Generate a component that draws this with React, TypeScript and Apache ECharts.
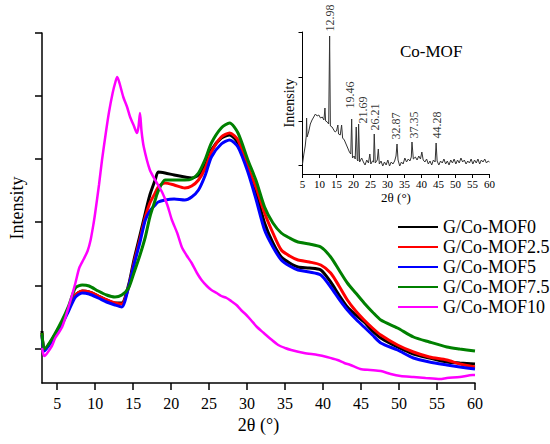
import React, { useEffect, useRef } from "react";
import * as echarts from "echarts";

const FONT = "'Liberation Serif', 'Times New Roman', serif";

// Main chart: 2θ positions shared by the four similar composites
const twoTheta = [3.0, 3.3, 4.3, 5.6, 6.5, 7.4, 8.3, 9.2, 10.4, 11.5,
  12.6, 13.5, 14.4, 15.1, 15.9, 16.6, 17.2, 17.9, 18.3, 19.2,
  20.4, 21.8, 22.7, 23.6, 24.5, 25.3, 26.6, 27.7, 28.8, 30.1,
  31.2, 32.3, 33.4, 34.5, 35.6, 36.7, 38.2, 39.7, 41.0, 42.1,
  43.2, 44.3, 45.4, 46.5, 47.6, 49.8, 51.9, 54.0, 56.3, 58.0, 60.0];

const mof0 = [52, 33, 43, 60, 74, 88, 92, 91, 87, 83,
  80, 80, 98, 123, 148, 170, 188, 203, 211, 210,
  208, 206, 205, 208, 218, 233, 245, 248, 240, 215,
  190, 160, 140, 126, 120, 116, 115, 113, 101, 88,
  76, 68, 61, 52, 45, 36, 29, 25, 21, 20, 19];

const mof25 = [50, 33, 43, 60, 74, 88, 92, 91, 87, 83,
  80, 79, 96, 120, 144, 166, 180, 190, 196, 200,
  198, 195, 197, 203, 215, 231, 246, 250, 243, 216,
  195, 170, 150, 133, 127, 123, 121, 118, 110, 97,
  83, 72, 63, 55, 48, 38, 31, 26, 23, 19, 16];

const mof5 = [48, 32, 42, 58, 72, 86, 90, 89, 85, 81,
  78, 76, 96, 118, 141, 163, 172, 178, 181, 183,
  184, 183, 186, 193, 208, 226, 239, 243, 236, 211,
  183, 153, 136, 123, 117, 113, 111, 108, 96, 84,
  73, 64, 56, 48, 40, 33, 25, 21, 18, 16, 14];

const mof75 = [50, 34, 44, 62, 77, 95, 98, 97, 92, 88,
  86, 88, 95, 110, 128, 146, 166, 183, 192, 203,
  203, 203, 204, 210, 224, 240, 255, 260, 250, 223,
  202, 176, 160, 150, 145, 141, 139, 136, 126, 113,
  100, 90, 80, 71, 63, 55, 46, 41, 36, 34, 32];

// G/Co-MOF10 has its own sampling (sharp peak near 13 and spike near 16)
const mof10Theta = [3.0, 3.3, 4.3, 4.74, 5.65, 6.5, 7.4, 7.9, 8.5, 9.0,
  9.4, 9.8, 10.0, 10.5, 10.9, 11.4, 11.8, 12.3, 12.7, 12.9,
  13.2, 13.7, 14.2, 14.6, 15.1, 15.5, 15.7, 15.9, 16.1, 16.4,
  17.2, 17.9, 18.8, 19.5, 20.1, 20.8, 21.4, 22.0, 22.7, 23.4,
  24.0, 24.7, 25.3, 26.0, 26.6, 27.3, 27.9, 28.6, 29.2, 29.9,
  30.5, 31.3, 32.2, 33.1, 34.1, 35.0, 35.8, 37.5, 39.3, 40.5,
  41.9, 42.8, 43.6, 44.9, 46.2, 47.6, 48.9, 50.2, 51.9, 53.5,
  55.4, 56.3, 58.0, 59.7, 60.0];

const mof10 = [35, 27, 37, 45, 56, 76, 100, 115, 124, 132,
  143, 160, 170, 198, 223, 250, 270, 290, 302, 306,
  300, 286, 276, 266, 257, 250, 256, 270, 252, 236,
  213, 203, 191, 178, 163, 150, 136, 128, 120, 110,
  103, 97, 93, 90, 87, 85, 82, 78, 73, 68,
  63, 56, 50, 44, 38, 35, 33, 30, 28, 26,
  23, 20, 18, 14, 13, 12, 9, 7, 6, 5,
  4, 5, 6, 8, 8];

// Inset: Co-MOF pattern
const insetTheta = [5.0, 5.4, 5.8, 6.1, 6.2, 6.35, 6.8, 7.3, 7.8, 8.3,
  8.8, 9.3, 9.8, 10.3, 10.8, 11.3, 11.6, 11.8, 12.3, 12.7,
  12.98, 13.2, 13.7, 14.2, 14.6, 15.0, 15.4, 15.6, 16.1, 16.5,
  16.8, 17.3, 17.8, 18.3, 18.8, 19.2, 19.46, 19.7, 20.2, 20.5,
  20.8, 21.1, 21.3, 21.5, 21.8, 22.4, 22.9, 23.4, 23.9, 24.4,
  24.8, 25.1, 25.6, 25.9, 26.1, 26.4, 27.0, 27.3, 27.6, 28.1,
  28.6, 29.1, 29.6, 30.1, 30.6, 31.1, 31.6, 32.1, 32.5, 32.8,
  33.1, 33.6, 34.1, 34.6, 35.1, 35.6, 36.1, 36.6, 37.0, 37.2,
  37.6, 38.2, 38.7, 39.2, 39.7, 40.1, 40.5, 41.0, 41.5, 42.0,
  42.5, 43.0, 43.5, 44.0, 44.3, 44.6, 45.1, 45.6, 46.1, 46.6,
  47.1, 47.6, 48.1, 48.6, 49.1, 49.6, 50.1, 50.6, 51.1, 51.6,
  52.1, 52.6, 53.1, 53.6, 54.1, 54.6, 55.1, 55.6, 56.1, 56.6,
  57.1, 57.6, 58.1, 58.6, 59.1, 59.6, 60.0];

const insetIntensity = [10, 20, 28, 38, 56, 37, 42, 50, 54, 57,
  60, 58, 59, 56, 57, 54, 66, 53, 52, 50,
  138, 48, 47, 44, 42, 43, 49, 40, 39, 49,
  36, 34, 30, 26, 22, 20, 55, 16, 18, 15,
  47, 14, 13, 50, 12, 16, 12, 9, 14, 11,
  20, 10, 13, 12, 40, 11, 14, 25, 10, 13,
  8, 12, 9, 14, 8, 12, 10, 13, 18, 30,
  14, 8, 12, 10, 16, 12, 15, 13, 17, 32,
  15, 17, 14, 18, 15, 22, 14, 12, 15, 10,
  13, 9, 14, 12, 31, 13, 9, 13, 11, 15,
  10, 13, 9, 14, 11, 15, 10, 14, 11, 16,
  12, 14, 10, 13, 11, 15, 10, 14, 11, 15,
  10, 14, 12, 15, 11, 13, 12];

// Peak annotations of the inset (label text, where the label sits along 2θ, label base height)
const peakLabels = ["12.98", "19.46", "21.69", "26.21", "32.87", "37.35", "44.28"];
const peakLabelTheta = [13.0, 18.95, 22.8, 26.3, 32.6, 37.8, 44.6];
const peakLabelBase = [142, 65, 50, 43, 34, 35, 35];

const mainXTicks = [5, 10, 15, 20, 25, 30, 35, 40, 45, 50, 55, 60];
const mainYTicks = [34, 97, 161, 224, 287, 350];
const insetYTicks = [9, 53, 97, 142];

const seriesNames = ["G/Co-MOF0", "G/Co-MOF2.5", "G/Co-MOF5", "G/Co-MOF7.5", "G/Co-MOF10"];
const seriesColors = ["#000000", "#ff0000", "#0000ff", "#008000", "#ff00ff"];

const zip = (xs: number[], ys: number[]) => xs.map((x, i) => [x, ys[i]]);

export default function App() {
  const ref = useRef<HTMLDivElement>(null);

  useEffect(() => {
    if (!ref.current) return;
    const chart = echarts.init(ref.current, null, { renderer: "svg" });

    const mainLine = (idx: number, xs: number[], ys: number[], width: number) => ({
      name: seriesNames[idx],
      type: "line",
      xAxisIndex: 0,
      yAxisIndex: 0,
      data: zip(xs, ys),
      symbol: "none",
      showSymbol: false,
      smooth: 0.25,
      color: seriesColors[idx],
      lineStyle: { color: seriesColors[idx], width },
      itemStyle: { color: seriesColors[idx] },
      z: 2 + idx,
    });

    const axisLineStyle = { color: "#000", width: 1.5 };

    const option: any = {
      animation: false,
      backgroundColor: "#ffffff",
      grid: [
        { left: 39, right: 75, top: 33, bottom: 61 },
        { left: 302.5, right: 60.5, top: 32, bottom: 270 },
      ],
      xAxis: [
        {
          type: "value",
          gridIndex: 0,
          min: 3,
          max: 60,
          axisLine: { show: true, lineStyle: axisLineStyle },
          axisTick: { show: true, customValues: mainXTicks, length: 7, lineStyle: axisLineStyle },
          axisLabel: { show: true, customValues: mainXTicks, fontSize: 16, fontFamily: FONT, color: "#000", margin: 12 },
          splitLine: { show: false },
          name: "2θ (°)",
          nameLocation: "middle",
          nameGap: 25,
          nameTextStyle: { fontSize: 18, fontFamily: FONT, color: "#000" },
        },
        {
          type: "value",
          gridIndex: 1,
          min: 5,
          max: 60,
          interval: 5,
          axisLine: { show: true, lineStyle: { color: "#000", width: 1 } },
          axisTick: { show: true, length: 4, lineStyle: { color: "#000", width: 1 } },
          axisLabel: { show: true, fontSize: 11, fontFamily: FONT, color: "#000", margin: 4 },
          splitLine: { show: false },
          name: "2θ (°)",
          nameLocation: "middle",
          nameGap: 17,
          nameTextStyle: { fontSize: 13, fontFamily: FONT, color: "#000" },
        },
      ],
      yAxis: [
        {
          type: "value",
          gridIndex: 0,
          min: 0,
          max: 350,
          axisLine: { show: true, lineStyle: axisLineStyle },
          axisTick: { show: true, customValues: mainYTicks, length: 7, lineStyle: axisLineStyle },
          axisLabel: { show: false },
          splitLine: { show: false },
          name: "Intensity",
          nameLocation: "middle",
          nameGap: 16,
          nameTextStyle: { fontSize: 18, fontFamily: FONT, color: "#000" },
        },
        {
          type: "value",
          gridIndex: 1,
          min: 0,
          max: 142,
          axisLine: { show: true, lineStyle: { color: "#000", width: 1 } },
          axisTick: { show: true, customValues: insetYTicks, length: 4, lineStyle: { color: "#000", width: 1 } },
          axisLabel: { show: false },
          splitLine: { show: false },
          name: "Intensity",
          nameLocation: "middle",
          nameGap: 6,
          nameTextStyle: { fontSize: 14, fontFamily: FONT, color: "#000" },
        },
      ],
      legend: {
        data: seriesNames,
        orient: "vertical",
        left: 393,
        top: 212,
        itemWidth: 40,
        itemHeight: 2,
        itemGap: 0,
        icon: "rect",
        selectedMode: false,
        textStyle: { fontSize: 18, fontFamily: FONT, color: "#000", lineHeight: 20 },
      },
      graphic: [
        {
          type: "text",
          left: 400,
          top: 43,
          style: { text: "Co-MOF", font: `17px ${FONT}`, fill: "#000" },
        },
      ],
      series: [
        mainLine(3, twoTheta, mof75, 3),
        mainLine(0, twoTheta, mof0, 3),
        mainLine(1, twoTheta, mof25, 3),
        mainLine(2, twoTheta, mof5, 3),
        mainLine(4, mof10Theta, mof10, 2.5),
        {
          name: "Co-MOF",
          type: "line",
          xAxisIndex: 1,
          yAxisIndex: 1,
          data: zip(insetTheta, insetIntensity),
          symbol: "none",
          showSymbol: false,
          lineStyle: { color: "#333333", width: 1 },
          color: "#333333",
          z: 10,
        },
        {
          name: "peaks",
          type: "scatter",
          xAxisIndex: 1,
          yAxisIndex: 1,
          silent: true,
          symbolSize: 1,
          itemStyle: { color: "rgba(0,0,0,0)" },
          data: peakLabelTheta.map((p, i) => [p, peakLabelBase[i], peakLabels[i]]),
          label: {
            show: true,
            position: "top",
            distance: 0,
            rotate: 90,
            align: "left",
            verticalAlign: "middle",
            fontSize: 12,
            fontFamily: FONT,
            color: "#000",
            formatter: (p: any) => p.value[2],
          },
          labelLayout: { hideOverlap: false },
          z: 11,
        },
      ],
    };

    chart.setOption(option);
    return () => chart.dispose();
  }, []);

  return (
    <div
      ref={ref}
      style={{ position: "fixed", left: 0, top: 0, width: 550, height: 444, background: "#fff" }}
    />
  );
}
